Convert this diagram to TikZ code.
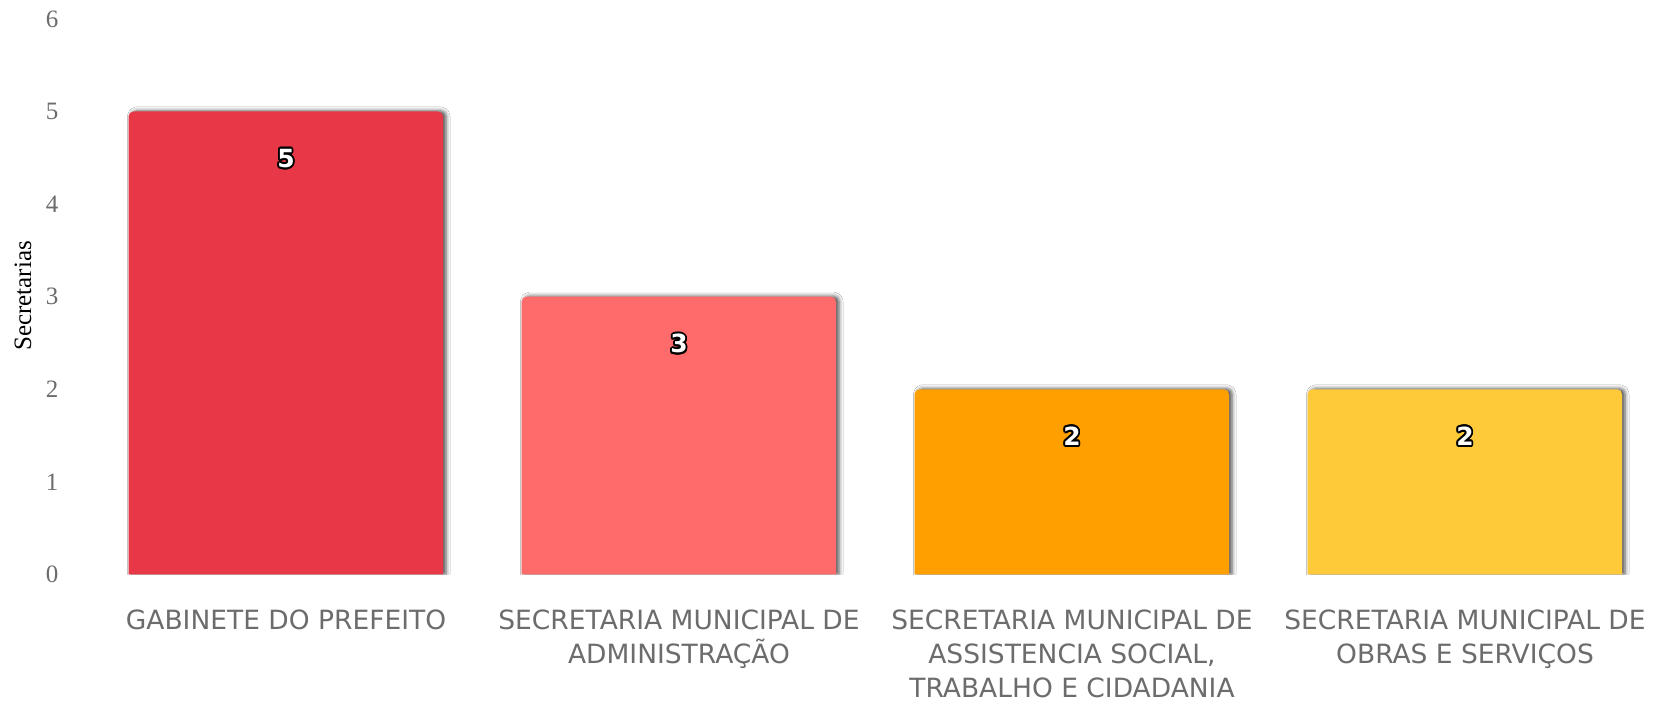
\documentclass[tikz,border=0pt]{standalone}
\usepackage{fontspec}
\setmainfont{Liberation Serif}
\newfontfamily\catfont{DejaVu Sans}
\usetikzlibrary{shadows.blur}

\definecolor{gabinete}{RGB}{232,56,72}
\definecolor{administracao}{RGB}{255,107,107}
\definecolor{assistencia}{RGB}{255,160,0}
\definecolor{obras}{RGB}{255,202,58}
\definecolor{ticklabel}{RGB}{108,108,108}

\def\BASELINE{126.5}
\def\UNIT{92.6}

\tikzset{
  bar/.style={blur shadow={shadow xshift=3pt, shadow yshift=0.5pt,
      shadow blur radius=4pt, shadow opacity=70}},
  ticktext/.style={font=\fontsize{25}{25}\selectfont, text=ticklabel, inner sep=0pt},
  cattext/.style={font=\catfont\fontsize{26.5}{34}\selectfont, text=ticklabel,
      align=center, anchor=north, inner sep=0pt},
  valuetext/.style={font=\catfont\bfseries\fontsize{25}{25}\selectfont, inner sep=0pt}
}

% value on a bar, white with a black rim
\newcommand{\valuetag}[4]{%
  \foreach \a in {0,22.5,...,337.5}
    \node[valuetext, text=black, shift={(\a:1.8)}] at (#2,#3) {#4};
  \node[valuetext, text=white] (#1) at (#2,#3) {#4};
}

\begin{document}
\begin{tikzpicture}[x=1pt,y=1pt]

	\fill[white] (0,0) rectangle (1663,701);
	\useasboundingbox (0,0) rectangle (1663,701);

	% y axis
	\node[ticktext] (tick0) at (52,\BASELINE) {0};
	\node[ticktext] (tick1) at (52,\BASELINE+\UNIT) {1};
	\node[ticktext] (tick2) at (52,\BASELINE+2*\UNIT) {2};
	\node[ticktext] (tick3) at (52,\BASELINE+3*\UNIT) {3};
	\node[ticktext] (tick4) at (52,\BASELINE+4*\UNIT) {4};
	\node[ticktext] (tick5) at (52,\BASELINE+5*\UNIT) {5};
	\node[ticktext] (tick6) at (52,\BASELINE+6*\UNIT) {6};
	\node[font=\fontsize{25}{25}\selectfont, rotate=90, inner sep=0pt] (ytitle) at (23,405) {Secretarias};

	% bars
	\begin{scope}
	\clip (0,\BASELINE) rectangle (1663,701);
	\fill[gabinete, bar] (128.5,\BASELINE) [rounded corners=5pt] -- (128.5,\BASELINE+5*\UNIT) -- (443,\BASELINE+5*\UNIT) [sharp corners] -- (443,\BASELINE) -- cycle;
	\fill[administracao, bar] (521.5,\BASELINE) [rounded corners=5pt] -- (521.5,\BASELINE+3*\UNIT) -- (836,\BASELINE+3*\UNIT) [sharp corners] -- (836,\BASELINE) -- cycle;
	\fill[assistencia, bar] (914.5,\BASELINE) [rounded corners=5pt] -- (914.5,\BASELINE+2*\UNIT) -- (1229,\BASELINE+2*\UNIT) [sharp corners] -- (1229,\BASELINE) -- cycle;
	\fill[obras, bar] (1307.5,\BASELINE) [rounded corners=5pt] -- (1307.5,\BASELINE+2*\UNIT) -- (1622,\BASELINE+2*\UNIT) [sharp corners] -- (1622,\BASELINE) -- cycle;
	\end{scope}

	% values
	\valuetag{valgabinete}{286}{\BASELINE+5*\UNIT-47}{5}
	\valuetag{valadministracao}{679}{\BASELINE+3*\UNIT-47}{3}
	\valuetag{valassistencia}{1072}{\BASELINE+2*\UNIT-47}{2}
	\valuetag{valobras}{1465}{\BASELINE+2*\UNIT-47}{2}

	% categories
	\node[cattext] (catgabinete) at (286,91) {GABINETE DO PREFEITO};
	\node[cattext] (catadministracao) at (679,91) {SECRETARIA MUNICIPAL DE\\ADMINISTRAÇÃO};
	\node[cattext] (catassistencia) at (1072,91) {SECRETARIA MUNICIPAL DE\\ASSISTENCIA SOCIAL,\\TRABALHO E CIDADANIA};
	\node[cattext] (catobras) at (1465,91) {SECRETARIA MUNICIPAL DE\\OBRAS E SERVIÇOS};

      \end{tikzpicture}
\end{document}
